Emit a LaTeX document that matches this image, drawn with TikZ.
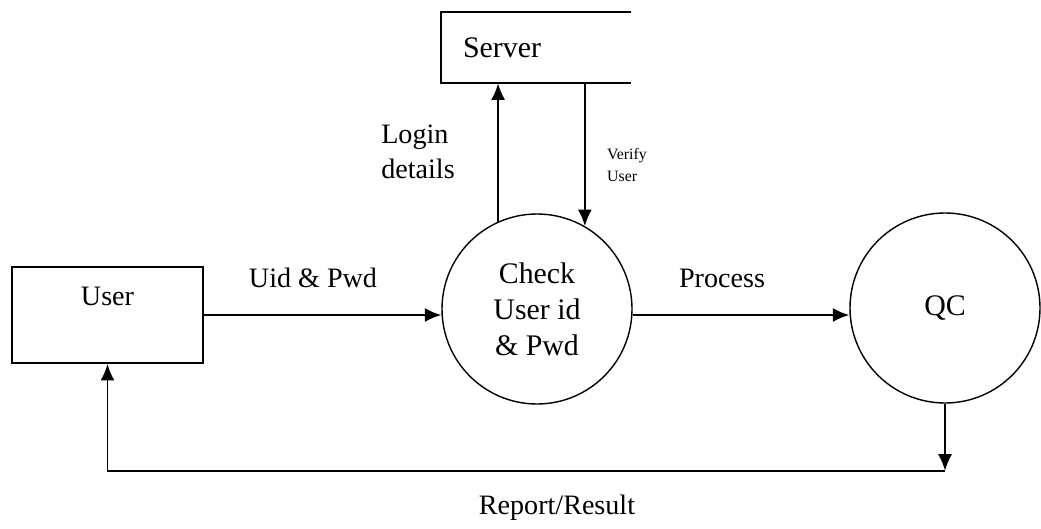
\documentclass[tikz,border=0pt]{standalone}
\usepackage{fontspec}
\setmainfont{Liberation Serif}
\usetikzlibrary{arrows.meta,positioning,calc}

\begin{document}
\begin{tikzpicture}[
  proc/.style={draw, circle, line width=0.8pt, minimum size=3.8cm, inner sep=0pt, align=center, font=\fontsize{17}{20.5}\selectfont},
  entity/.style={draw, line width=1.1pt, minimum width=3.82cm, minimum height=1.92cm},
  store/.style={minimum height=1.42cm, text width=2.92cm, inner xsep=0.44cm, align=left, font=\fontsize{17}{20}\selectfont},
  lbl/.style={font=\fontsize{16}{20}\selectfont, align=left},
  flow/.style={line width=1pt, -{Latex[length=0.33cm,width=0.28cm]}}
]
  \useasboundingbox (0,0) rectangle (20.82,10.56);

  % entity and data store
  \node[entity, label={[lbl, anchor=north, yshift=-0.29cm]north:User}] (user) at (2.15,4.26) {};
  \node[store] (server) at (10.72,9.61) {Server};
  \draw[line width=1.1pt] (server.north east) -- (server.north west) -- (server.south west) -- (server.south east);

  % processes
  \node[proc] (check) at (10.74,4.38) {Check\\User id\\\& Pwd};
  \node[proc] (qc) at (18.9,4.40) {QC};
  \coordinate[below=1.34cm of qc.south] (turn);

  % flows
  \draw[flow] (user.east) -- (user.east -| check.west);
  \draw[flow] (check.east |- user.east) -- (qc.west |- user.east);
  \draw[flow] (check.114) -- (check.114 |- server.south);
  \draw[flow] (check.60 |- server.south) -- (check.60);
  \draw[flow] (qc.south) -- (turn);
  \draw[flow] (turn) -- (turn -| user.south) -- (user.south);

  % flow labels
  \node[lbl] (uidlbl) at (6.26,5.0) {Uid \& Pwd};
  \node[lbl] (proclbl) at (14.44,5.0) {Process};
  \node[lbl] (loginlbl) at (8.36,7.52) {Login\\details};
  \node[lbl, font=\fontsize{9}{12.5}\selectfont] (verlbl) at (12.54,7.26) {Verify\\User};
  \node[lbl] (replbl) at (11.14,0.40) {Report/Result};
\end{tikzpicture}
\end{document}
